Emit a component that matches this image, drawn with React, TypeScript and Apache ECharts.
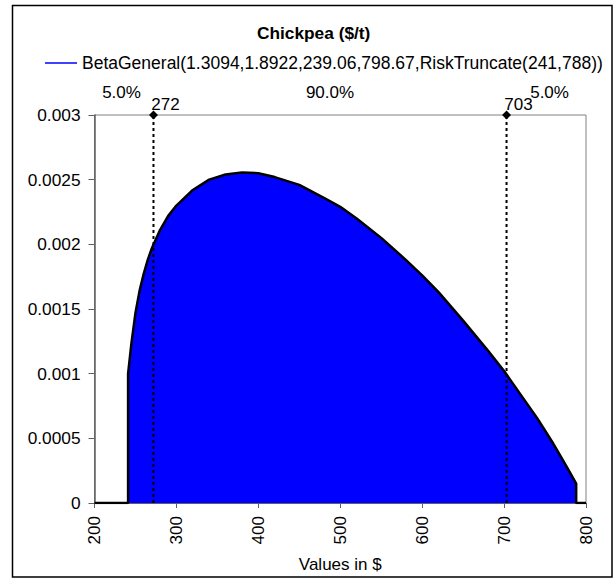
import React, { useEffect, useRef } from "react";
import * as echarts from "echarts";

const titleText = "Chickpea ($/t)";
const seriesName = "BetaGeneral(1.3094,1.8922,239.06,798.67,RiskTruncate(241,788))";
const xAxisName = "Values in $";

const xValues = [200, 241, 241, 245, 250, 255, 260, 265, 270, 280, 290, 300, 320, 340, 360, 380, 400, 420, 450, 480, 500, 520, 550, 580, 600, 620, 650, 680, 700, 720, 740, 760, 770, 780, 788, 788, 800];
const density = [0, 0, 0.001, 0.00123, 0.00147, 0.00164, 0.00177, 0.00188, 0.00197, 0.00211, 0.00222, 0.0023, 0.00242, 0.0025, 0.00254, 0.002555, 0.00255, 0.00252, 0.00246, 0.00236, 0.00229, 0.0022, 0.00205, 0.00188, 0.00176, 0.00163, 0.00141, 0.00118, 0.00102, 0.00084, 0.00066, 0.00046, 0.00035, 0.00024, 0.00015, 0, 0];

const percentiles = [272, 703];
const bandLabels = ["5.0%", "90.0%", "5.0%"];

const xMin = 200;
const xMax = 800;
const xStep = 100;
const yMin = 0;
const yMax = 0.003;
const yStep = 0.0005;

const FONT = "'Liberation Sans', Arial, sans-serif";

export default function App() {
  const ref = useRef<HTMLDivElement>(null);
  useEffect(() => {
    if (!ref.current) return;
    const chart = echarts.init(ref.current, undefined, { renderer: "svg" });
    const curve = xValues.map((x, i) => [x, density[i]]);
    const bandCenters = [
      (xMin + percentiles[0]) / 2 - 3,
      (percentiles[0] + percentiles[1]) / 2,
      (percentiles[1] + xMax) / 2 + 4,
    ];
    const labelStyle = {
      fontSize: 17,
      color: "#000",
      fontFamily: FONT,
      opacity: 1,
      textBorderWidth: 0,
    };
    const option: any = {
      animation: false,
      textStyle: { fontFamily: FONT },
      title: {
        text: titleText,
        left: 252,
        top: 19,
        textStyle: { fontSize: 17.3, fontWeight: "bold", color: "#000", fontFamily: FONT },
      },
      legend: {
        left: 40,
        top: 49,
        itemWidth: 32,
        itemHeight: 1.5,
        itemGap: 2,
        textStyle: { fontSize: 17.5, color: "#000", fontFamily: FONT },
        data: [{ name: seriesName, icon: "rect", itemStyle: { color: "#0000ff" } }],
      },
      grid: {
        left: 94.5,
        right: 30,
        top: 115,
        bottom: 78,
        show: true,
        borderColor: "#808080",
        borderWidth: 1,
        backgroundColor: "transparent",
      },
      xAxis: {
        type: "value",
        min: xMin,
        max: xMax,
        interval: xStep,
        name: xAxisName,
        nameLocation: "middle",
        nameGap: 53,
        nameTextStyle: { fontSize: 17, color: "#000", fontFamily: FONT },
        axisLine: { show: true, onZero: false, lineStyle: { color: "#606060", width: 1 } },
        axisTick: { show: true, length: 5, lineStyle: { color: "#606060" } },
        axisLabel: { rotate: 90, margin: 13, fontSize: 17, color: "#000", fontFamily: FONT },
        splitLine: { show: false },
      },
      yAxis: {
        type: "value",
        min: yMin,
        max: yMax,
        interval: yStep,
        axisLine: { show: true, lineStyle: { color: "#606060", width: 1.5 } },
        axisTick: { show: true, length: 6, lineStyle: { color: "#606060" } },
        axisLabel: {
          margin: 14,
          fontSize: 17.3,
          color: "#000",
          fontFamily: FONT,
          formatter: (v: number) => String(+v.toFixed(4)),
        },
        splitLine: { show: false },
      },
      series: [
        {
          name: seriesName,
          type: "line",
          data: curve,
          symbol: "none",
          z: 2,
          itemStyle: { color: "#0000ff" },
          lineStyle: { color: "#000", width: 2.5 },
          areaStyle: { color: "#0000ff", opacity: 1 },
        },
        ...percentiles.map((p) => ({
          type: "line",
          data: [
            [p, yMin],
            [p, yMax],
          ],
          symbol: "none",
          silent: true,
          z: 3,
          lineStyle: { color: "#000", width: 2, type: [3, 3] },
        })),
        {
          type: "scatter",
          data: percentiles.map((p) => [p, yMax]),
          symbol: "diamond",
          symbolSize: 9,
          clip: false,
          silent: true,
          z: 4,
          itemStyle: { color: "#000", opacity: 1 },
          label: {
            show: true,
            position: "inside",
            offset: [12, -11],
            formatter: (d: any) => String(d.value[0]),
            ...labelStyle,
          },
        },
        {
          type: "scatter",
          data: bandCenters.map((c, i) => ({ value: [c, yMax], name: bandLabels[i] })),
          symbolSize: 0,
          clip: false,
          silent: true,
          z: 4,
          itemStyle: { color: "#000", opacity: 1 },
          label: {
            show: true,
            position: "inside",
            offset: [0, -22.5],
            formatter: (d: any) => d.name,
            ...labelStyle,
          },
        },
      ],
      graphic: [
        {
          type: "rect",
          shape: { x: 12.5, y: 5.5, width: 599.5, height: 571.5 },
          style: { fill: "none", stroke: "#000", lineWidth: 1.5 },
          silent: true,
          z: 10,
        },
      ],
    };
    chart.setOption(option);
    return () => chart.dispose();
  }, []);
  return (
    <div
      ref={ref}
      style={{ position: "fixed", left: 0, top: 0, width: 616, height: 581, background: "#fff" }}
    />
  );
}
